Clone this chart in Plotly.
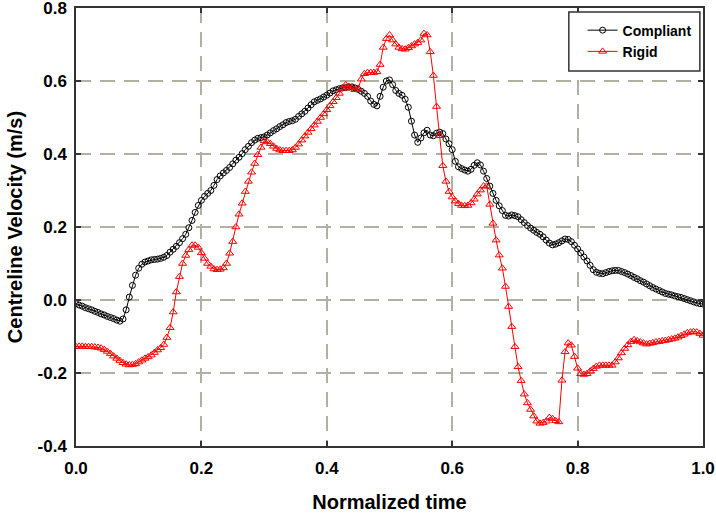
import plotly.graph_objects as go

# Normalized time grid (step 0.005)
time = [round(i * 0.005, 3) for i in range(201)]

compliant = [
    -0.010, -0.014, -0.017, -0.021, -0.024, -0.027, -0.031, -0.034, -0.038, -0.041,
    -0.045, -0.048, -0.051, -0.055, -0.058, -0.052, -0.027, 0.008, 0.040, 0.068,
    0.087, 0.098, 0.104, 0.107, 0.110, 0.111, 0.112, 0.114, 0.117, 0.122,
    0.131, 0.139, 0.147, 0.157, 0.168, 0.180, 0.198, 0.218, 0.240, 0.259,
    0.273, 0.284, 0.292, 0.300, 0.314, 0.330, 0.340, 0.348, 0.355, 0.363,
    0.373, 0.383, 0.391, 0.401, 0.412, 0.421, 0.431, 0.438, 0.443, 0.445,
    0.447, 0.452, 0.458, 0.464, 0.469, 0.475, 0.480, 0.486, 0.489, 0.491,
    0.495, 0.503, 0.510, 0.517, 0.526, 0.535, 0.543, 0.547, 0.551, 0.556,
    0.561, 0.567, 0.573, 0.576, 0.579, 0.581, 0.582, 0.583, 0.584, 0.581,
    0.577, 0.572, 0.566, 0.558, 0.545, 0.536, 0.532, 0.558, 0.583, 0.600,
    0.603, 0.590, 0.574, 0.566, 0.561, 0.550, 0.528, 0.490, 0.452, 0.432,
    0.444, 0.458, 0.465, 0.452, 0.450, 0.457, 0.460, 0.456, 0.441, 0.428,
    0.412, 0.380, 0.365, 0.360, 0.356, 0.353, 0.358, 0.369, 0.376, 0.370,
    0.353, 0.333, 0.312, 0.292, 0.273, 0.258, 0.245, 0.232, 0.230, 0.233,
    0.231, 0.228, 0.220, 0.212, 0.204, 0.197, 0.191, 0.185, 0.180, 0.173,
    0.164, 0.156, 0.151, 0.153, 0.157, 0.162, 0.167, 0.166, 0.160, 0.150,
    0.140, 0.129, 0.118, 0.107, 0.095, 0.083, 0.076, 0.073, 0.072, 0.075,
    0.078, 0.080, 0.081, 0.081, 0.078, 0.075, 0.071, 0.067, 0.062, 0.058,
    0.053, 0.049, 0.044, 0.039, 0.034, 0.030, 0.026, 0.022, 0.018, 0.016,
    0.014, 0.011, 0.009, 0.007, 0.004, 0.001, -0.002, -0.005, -0.008, -0.010,
    -0.011,
]

rigid = [
    -0.128, -0.127, -0.127, -0.128, -0.128, -0.128, -0.129, -0.130, -0.132, -0.136,
    -0.141, -0.147, -0.154, -0.160, -0.166, -0.172, -0.176, -0.178, -0.177, -0.175,
    -0.170, -0.165, -0.160, -0.156, -0.151, -0.144, -0.137, -0.131, -0.122, -0.103,
    -0.076, -0.033, 0.022, 0.064, 0.100, 0.122, 0.138, 0.150, 0.150, 0.144,
    0.129, 0.114, 0.100, 0.092, 0.085, 0.083, 0.084, 0.088, 0.100, 0.128,
    0.160, 0.200, 0.235, 0.265, 0.297, 0.325, 0.350, 0.374, 0.398, 0.418,
    0.436, 0.433, 0.428, 0.421, 0.415, 0.411, 0.409, 0.409, 0.409, 0.411,
    0.418, 0.427, 0.438, 0.449, 0.459, 0.469, 0.479, 0.489, 0.500, 0.510,
    0.521, 0.532, 0.543, 0.554, 0.566, 0.580, 0.589, 0.585, 0.581, 0.576,
    0.580, 0.605, 0.620, 0.623, 0.623, 0.623, 0.625, 0.645, 0.692, 0.716,
    0.726, 0.712, 0.701, 0.692, 0.688, 0.687, 0.691, 0.696, 0.701, 0.705,
    0.712, 0.730, 0.726, 0.680, 0.615, 0.530, 0.450, 0.368, 0.325, 0.297,
    0.282, 0.271, 0.264, 0.259, 0.258, 0.259, 0.266, 0.276, 0.290, 0.301,
    0.312, 0.312, 0.262, 0.210, 0.164, 0.123, 0.087, 0.037, -0.018, -0.073,
    -0.128, -0.183, -0.221, -0.258, -0.282, -0.300, -0.318, -0.332, -0.338, -0.336,
    -0.332, -0.322, -0.325, -0.331, -0.334, -0.220, -0.142, -0.118, -0.124, -0.155,
    -0.187, -0.202, -0.204, -0.202, -0.195, -0.188, -0.182, -0.179, -0.179, -0.179,
    -0.179, -0.179, -0.170, -0.159, -0.145, -0.133, -0.123, -0.114, -0.109, -0.112,
    -0.115, -0.118, -0.121, -0.119, -0.117, -0.115, -0.114, -0.112, -0.111, -0.109,
    -0.107, -0.105, -0.102, -0.098, -0.094, -0.090, -0.088, -0.087, -0.088, -0.092,
    -0.097,
]

x_ticks = [0.0, 0.2, 0.4, 0.6, 0.8, 1.0]
y_ticks = [-0.4, -0.2, 0.0, 0.2, 0.4, 0.6, 0.8]

FONT = "Arial, Liberation Sans, Helvetica, sans-serif"
GRID = "#b3b0a3"
AXIS = "#333333"

fig = go.Figure()
fig.add_trace(go.Scatter(
    x=time, y=compliant, name="Compliant", mode="lines+markers",
    line=dict(color="black", width=1),
    marker=dict(symbol="circle-open", size=6, color="black", line=dict(width=1)),
))
fig.add_trace(go.Scatter(
    x=time, y=rigid, name="Rigid", mode="lines+markers",
    line=dict(color="#ff0000", width=1),
    marker=dict(symbol="triangle-up-open", size=7, color="#ff0000", line=dict(width=1)),
))

axis_common = dict(
    showgrid=True, gridcolor=GRID, gridwidth=1.5, griddash="15px,9px",
    zeroline=False, showline=True, linecolor=AXIS, linewidth=1.5,
    mirror="ticks", ticks="inside", ticklen=5, tickwidth=1.5, tickcolor=AXIS,
    tickfont=dict(family=FONT, size=17, color="black", weight="bold"),
    automargin=False, ticklabeloverflow="allow",
)

fig.update_xaxes(
    range=[0, 1], tickvals=x_ticks, ticktext=[f"{v:.1f}" for v in x_ticks],
    title=dict(text="Normalized time", font=dict(family=FONT, size=20, color="black", weight="bold"), standoff=24),
    ticklabelstandoff=6,
    **axis_common,
)
fig.update_yaxes(
    range=[-0.4, 0.8], tickvals=y_ticks, ticktext=[f"{v:.1f}" for v in y_ticks],
    title=dict(text="Centreline Velocity (m/s)", font=dict(family=FONT, size=20, color="black", weight="bold"), standoff=10),
    ticklabelstandoff=4,
    **axis_common,
)

# legend frame
fig.add_shape(
    type="rect", xref="paper", yref="paper",
    x0=0.786, x1=0.995, y0=0.856, y1=0.991,
    line=dict(color=AXIS, width=1.5), fillcolor="white", layer="above",
)

fig.update_layout(
    width=716, height=513,
    margin=dict(l=76, r=13, t=8, b=67),
    plot_bgcolor="white", paper_bgcolor="white",
    showlegend=True,
    legend=dict(
        x=0.808, y=0.985, xanchor="left", yanchor="top",
        bgcolor="rgba(0,0,0,0)", borderwidth=0,
        font=dict(family=FONT, size=14, color="black", weight="bold"),
        itemwidth=30, tracegroupgap=0,
    ),
)

fig.write_html(
    "out.html",
    config={"displayModeBar": False},
    post_script="document.body.style.margin='0';document.body.style.padding='0';",
)
